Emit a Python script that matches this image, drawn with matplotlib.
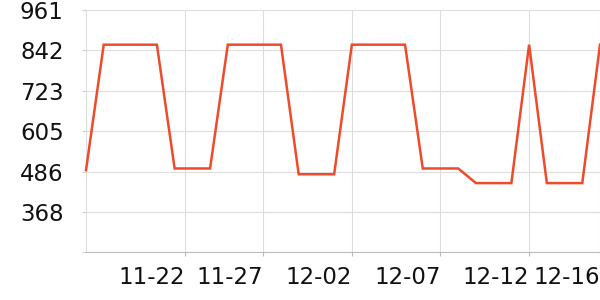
import matplotlib
matplotlib.use("Agg")
import matplotlib.pyplot as plt

dates = ["11-17", "11-18", "11-19", "11-20", "11-21", "11-22", "11-23", "11-24", "11-25", "11-26",
         "11-27", "11-28", "11-29", "11-30", "12-01", "12-02", "12-03", "12-04", "12-05", "12-06",
         "12-07", "12-08", "12-09", "12-10", "12-11", "12-12", "12-13", "12-14", "12-15", "12-16"]
values = [490, 859, 859, 859, 859, 495, 495, 495, 859, 859,
          859, 859, 478, 478, 478, 859, 859, 859, 859, 495,
          495, 495, 452, 452, 452, 859, 452, 452, 452, 859]
y_ticks = [249.4, 368, 486, 605, 723, 842, 961]
y_tick_labels = ["", "368", "486", "605", "723", "842", "961"]
x_tick_pos = [5.6, 10, 15, 20, 25, 29]
x_tick_labels = ["11-22", "11-27", "12-02", "12-07", "12-12", "12-16"]

fig = plt.figure(figsize=(6, 3), dpi=100)
ax = fig.add_axes([86/600, 48/300, 514/600, 242/300])

x = list(range(len(values)))
ax.plot(x, values, color="#ee4a2c", linewidth=1.8, solid_joinstyle="miter", clip_on=False, zorder=3)

ax.set_xlim(0, len(values) - 1)
ax.set_ylim(249.4, 961)
ax.set_yticks(y_ticks)
ax.set_yticklabels(y_tick_labels)
ax.set_xticks(x_tick_pos)
ax.set_xticklabels(x_tick_labels, ha="right")

ax.grid(True, color="#dddddd", linewidth=0.8)
ax.set_axisbelow(True)
for s in ["top", "right"]:
    ax.spines[s].set_visible(False)
ax.spines["left"].set_color("#dddddd")
ax.spines["left"].set_linewidth(0.8)
ax.spines["bottom"].set_color("#bbbbbb")
ax.spines["bottom"].set_linewidth(0.8)

ax.tick_params(axis="y", length=3, color="#cccccc", labelsize=16.5, pad=13, labelcolor="#111111")
ax.tick_params(axis="x", length=3, color="#bbbbbb", labelsize=16.5, pad=7, labelcolor="#111111")

fig.savefig("out.png", dpi=100)
